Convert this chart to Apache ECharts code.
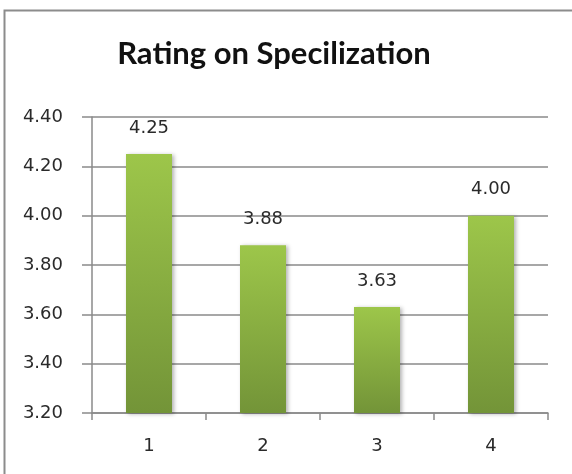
<!DOCTYPE html>
<html><head><meta charset="utf-8">
<script src="https://cdn.jsdelivr.net/npm/echarts@6/dist/echarts.min.js"></script>
<style>html,body{margin:0;padding:0;background:#fff}#c{width:572px;height:474px}</style>
</head><body><div id="c"></div>
<script>
const categories = ['1', '2', '3', '4'];
const ratings = [4.25, 3.88, 3.63, 4.00];
const yTicks = { min: 3.2, max: 4.4, interval: 0.2 };

const chart = echarts.init(document.getElementById('c'), null, { renderer: 'canvas' });
chart.setOption({
  backgroundColor: '#fff',
  animation: false,
  graphic: [{
    type: 'rect', shape: { x: 4.5, y: 10.5, width: 600, height: 500 },
    style: { fill: 'none', stroke: '#8c8c8c', lineWidth: 2 }, silent: true
  }],
  title: {
    text: 'Rating on Specilization', left: 269, top: 33, textAlign: 'center',
    textStyle: { fontFamily: 'Lato', fontWeight: 'bold', fontSize: 31, color: '#111' }
  },
  grid: { left: 92, right: 24, top: 117, bottom: 61, containLabel: false },
  xAxis: {
    type: 'category', data: categories,
    axisLine: { lineStyle: { color: '#8a8a8a', width: 1.5 } },
    axisTick: { show: true, length: 7, lineStyle: { color: '#8a8a8a', width: 1.5 } },
    axisLabel: { fontFamily: 'DejaVu Sans', fontSize: 18, color: '#2a2a2a', margin: 24 }
  },
  yAxis: {
    type: 'value', min: yTicks.min, max: yTicks.max, interval: yTicks.interval,
    axisLine: { show: true, lineStyle: { color: '#8a8a8a', width: 1.5 } },
    axisTick: { show: true, inside: false, length: 10, lineStyle: { color: '#8a8a8a', width: 1.5 } },
    splitLine: { lineStyle: { color: '#8a8a8a', width: 1.5 } },
    axisLabel: {
      fontFamily: 'DejaVu Sans', fontSize: 18, color: '#2a2a2a', margin: 29, align: 'right',
      formatter: v => v.toFixed(2)
    }
  },
  series: [{
    type: 'bar', data: ratings, barWidth: 46,
    itemStyle: {
      color: new echarts.graphic.LinearGradient(0, 0, 0, 1, [
        { offset: 0, color: '#9dc64a' },
        { offset: 1, color: '#739438' }
      ]),
      shadowColor: 'rgba(0,0,0,0.3)', shadowBlur: 4, shadowOffsetX: 2, shadowOffsetY: 1
    },
    label: {
      show: true, position: 'top', distance: 17,
      fontFamily: 'DejaVu Sans', fontSize: 18, color: '#2a2a2a',
      formatter: p => p.value.toFixed(2)
    }
  }]
});
</script></body></html>
